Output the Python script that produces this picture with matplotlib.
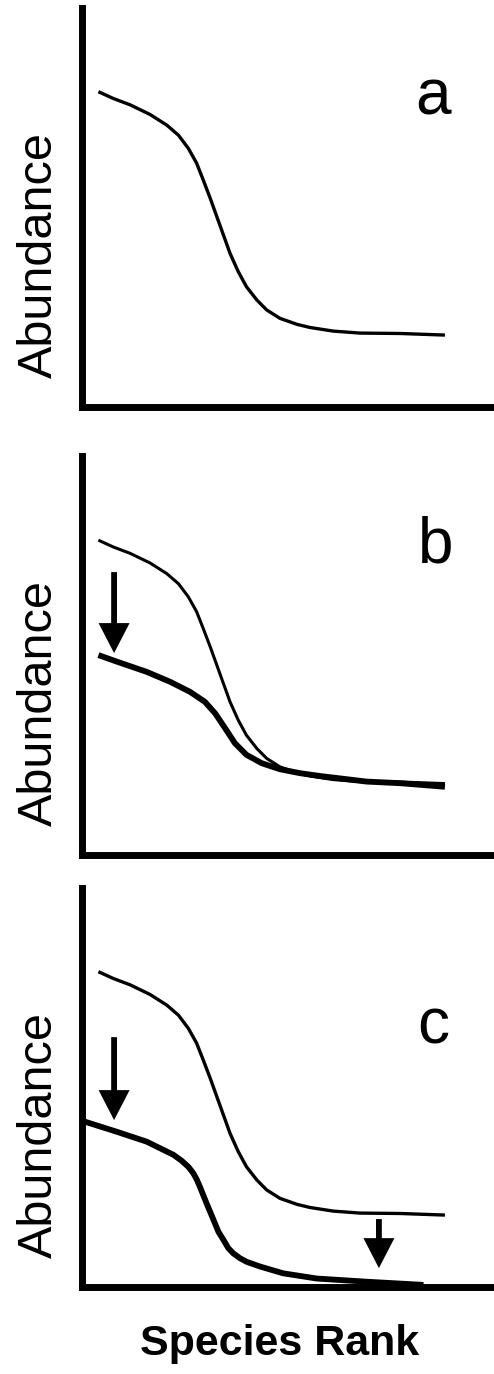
import matplotlib
matplotlib.use("Agg")
import matplotlib.pyplot as plt

#---------------- dados (rank 0-100, abundancia 0-100) ----------------
# curva original (igual nos tres paineis)
rank_orig = [4.1, 7.7, 11.8, 16.6, 20.7, 23.5, 25.9, 27.9, 29.5, 31.2, 32.8, 34.4,
             36.0, 38.0, 40.0, 42.5, 44.9, 48.1, 52.2, 55.4, 61.0, 67.5, 77.2, 88.1]
abund_orig = [78.9, 77.2, 75.6, 73.2, 70.5, 68.0, 64.7, 61.0, 56.8, 52.2, 47.6, 43.0,
              38.4, 33.8, 30.0, 26.7, 24.2, 22.1, 20.6, 19.8, 18.9, 18.4, 18.3, 17.9]

# painel b: curva reduzida (so as especies dominantes)
rank_b = [4.1, 9.3, 15.8, 21.5, 26.3, 29.9, 32.4, 34.8, 37.2, 40.0, 43.7, 48.1,
          53.0, 57.8, 69.1, 77.2, 88.1]
abund_b = [50.1, 48.2, 45.9, 43.4, 40.9, 38.4, 35.5, 31.8, 28.0, 25.1, 23.0, 21.5,
           20.5, 19.8, 18.4, 18.0, 17.1]

# painel c: curva reduzida (todas as especies)
rank_c = [0.85, 8.5, 15.8, 22.3, 24.3, 25.9, 27.1, 27.9, 28.7, 30.3, 32.0, 33.2,
          34.4, 35.6, 36.8, 38.4, 40.0, 43.3, 48.9, 57.0, 69.1, 82.9]
abund_c = [41.3, 38.8, 36.3, 33.0, 31.5, 30.0, 28.4, 26.9, 25.0, 20.9, 16.7, 13.7,
           11.7, 9.6, 8.3, 7.1, 6.2, 5.0, 3.3, 2.0, 1.2, 0.4]

letras = ["a", "b", "c"]

plt.rcParams["font.family"] = ["Liberation Sans", "DejaVu Sans"]

W, H = 494, 1374
fig = plt.figure(figsize=(W / 100, H / 100), dpi=100)

# posicao (px) do eixo x de cada painel
bases = [406.5, 855, 1286.5]
left = 81.5
altura = 399


def seta(ax, x, y0, y1):
    ax.annotate("", xy=(x, y1), xytext=(x, y0),
                arrowprops=dict(arrowstyle="simple,head_length=21.6,head_width=22.3,tail_width=4.2",
                                mutation_scale=1, shrinkA=0, shrinkB=0,
                                fc="black", ec="none", lw=0))


axes = []
for i, base in enumerate(bases):
    ax = fig.add_axes([left / W, 1 - base / H, (W - left) / W, altura / H])
    ax.set_xlim(0, 100)
    ax.set_ylim(0, 100)
    for s in ["top", "right"]:
        ax.spines[s].set_visible(False)
    for s in ["left", "bottom"]:
        ax.spines[s].set_linewidth(5)
    ax.set_xticks([])
    ax.set_yticks([])
    ax.patch.set_visible(False)
    ax.text(-0.0715, 0.38, "Abundance", rotation=90, rotation_mode="anchor",
            ha="center", va="baseline", fontsize=35, transform=ax.transAxes)
    axes.append(ax)

estilo = dict(color="black", solid_joinstyle="round", solid_capstyle="butt")

# painel a
axes[0].plot(rank_orig, abund_orig, lw=2.4, **estilo)
axes[0].text(85.2, 73.2, letras[0], fontsize=46, ha="center", va="baseline")

# painel b
axes[1].plot(rank_orig, abund_orig, lw=2.2, **estilo)
axes[1].plot(rank_b, abund_b, lw=4.2, **estilo)
axes[1].text(85.8, 73.4, letras[1], fontsize=46, ha="center", va="baseline")
seta(axes[1], 7.9, 70.9, 50.6)

# painel c
axes[2].plot(rank_orig, abund_orig, lw=2.4, **estilo)
axes[2].plot(rank_c, abund_c, lw=4.2, clip_on=False, **estilo)
axes[2].text(85.2, 61.0, letras[2], fontsize=46, ha="center", va="baseline")
seta(axes[2], 7.9, 62.5, 41.7)
seta(axes[2], 72.1, 16.9, 4.6)

fig.text(280 / W, 1 - 1355 / H, "Species Rank", fontsize=31, fontweight="bold",
         ha="center", va="baseline")

fig.savefig("out.png", dpi=100)
